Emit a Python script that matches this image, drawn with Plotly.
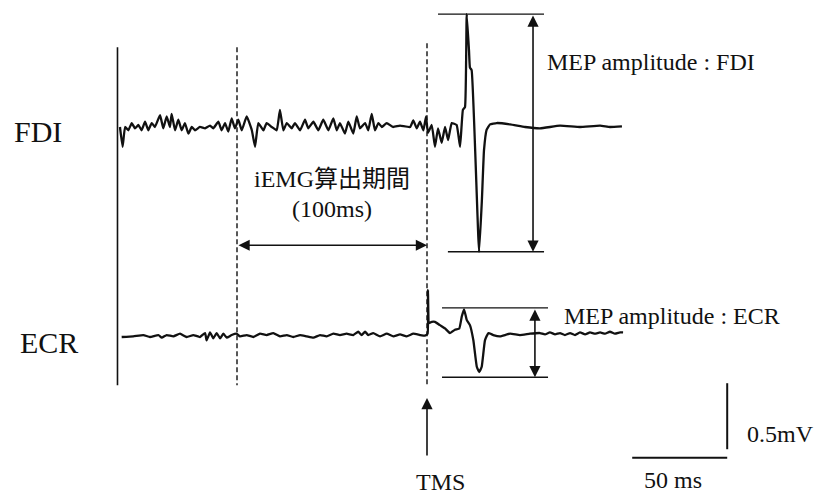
import plotly.graph_objects as go

# ---------------- data (time in ms relative to TMS, amplitude in mV) ----------------
fdi_t = [-161.6, -160.2, -158.9, -157.2, -155.4, -153.7, -151.9, -150.2, -148.4, -146.7,
         -144.9, -143.2, -140.5, -138.8, -137.0, -135.3, -134.4, -132.6, -130.9, -129.1,
         -127.4, -125.6, -123.8, -122.1, -119.5, -116.8, -114.2, -112.5, -109.8, -108.1,
         -106.3, -104.6, -102.8, -101.1, -99.3, -97.5, -94.9, -92.2, -90.5, -88.8,
         -86.1, -84.4, -81.7, -79.1, -77.4, -75.6, -73.8, -71.2, -69.5, -66.8,
         -64.2, -62.5, -59.8, -57.2, -54.6, -51.9, -49.3, -47.5, -45.8, -43.2,
         -41.4, -38.8, -37.0, -35.3, -32.6, -30.9, -29.1, -27.4, -25.6, -23.8,
         -21.2, -17.9, -14.2, -8.9, -7.2, -5.4, -3.7, -1.9, -0.5,
         0.5, 2.5, 4.2, 5.8, 7.7, 9.5, 11.1, 13.0, 15.6, 17.4, 18.9, 20.0, 20.9,
         22.1, 22.6, 23.5, 27.4, 28.9, 30.0, 31.4, 33.2, 36.7, 43.7, 51.6, 59.5,
         70.0, 80.5, 91.1, 96.3, 102.6]
fdi_v = [0.0, -0.15, 0.0, -0.025, 0.03, -0.01, 0.015, -0.025, 0.04, -0.025,
         0.03, 0.0, 0.09, -0.01, 0.08, 0.0, 0.1, -0.025, 0.055, -0.025,
         0.03, -0.05, 0.0, -0.025, 0.0, -0.01, 0.01, -0.01, 0.04, -0.025,
         0.03, -0.035, 0.065, -0.01, 0.055, -0.025, 0.08, -0.025, -0.15, 0.03,
         -0.025, 0.03, 0.0, -0.025, 0.13, -0.025, 0.03, -0.01, 0.03, -0.025,
         0.055, -0.01, 0.04, -0.025, 0.055, -0.025, 0.065, -0.025, 0.03, -0.05,
         0.04, -0.05, 0.08, -0.01, 0.03, -0.025, 0.1, -0.025, 0.03, 0.0,
         0.03, 0.0, 0.01, 0.0, 0.05, -0.01, 0.04, -0.025, 0.08,
         -0.045, 0.015, -0.15, -0.01, -0.12, 0.0, -0.1, 0.03, 0.015, -0.15, 0.13, 0.15, 0.855,
         0.58, 0.45, 0.43, -0.945, -0.55, -0.175, -0.02, 0.02, 0.03, 0.02, 0.0, -0.01,
         0.01, 0.0, 0.01, 0.0, 0.005]

ecr_t = [-160.7, -154.6, -149.3, -145.8, -141.4, -139.6, -137.0, -133.5, -130.0, -126.5,
         -123.0, -119.5, -116.8, -116.0, -114.2, -112.5, -110.7, -108.9, -107.2, -105.4,
         -102.8, -100.2, -98.4, -94.9, -91.4, -87.9, -84.4, -80.9, -77.4, -73.8,
         -70.4, -66.8, -63.3, -59.8, -56.3, -52.8, -49.3, -45.8, -42.3, -38.8,
         -36.2, -34.4, -32.6, -30.9, -28.3, -24.7, -21.2, -17.7, -14.2, -10.7,
         -7.2, -3.7, -1.1,
         0.3, 0.5, 1.1, 2.5, 4.2, 6.8, 9.5, 12.1, 14.7, 17.0, 18.3, 19.5, 20.9,
         22.6, 24.4, 26.2, 27.5, 28.8, 30.5, 32.3, 34.9, 38.4, 43.7, 48.9, 54.2,
         59.5, 62.1, 64.7, 67.4, 70.0, 72.6, 75.3, 77.9, 80.5, 83.2, 85.8, 88.4,
         91.1, 93.7, 96.3, 98.9, 101.6, 103.2]
ecr_v = [-0.015, -0.01, 0.0, -0.015, 0.0, -0.02, 0.0, -0.01, 0.01, -0.015,
         0.0, -0.015, 0.015, -0.04, 0.02, -0.025, 0.015, -0.025, 0.01, -0.02,
         0.0, 0.01, -0.01, 0.0, -0.015, 0.01, 0.0, 0.015, -0.01, 0.0,
         -0.015, 0.0, -0.01, -0.02, 0.0, -0.01, 0.01, 0.0, 0.01, 0.0,
         0.025, 0.0, 0.025, 0.0, 0.015, -0.01, 0.01, -0.01, 0.005, -0.01,
         0.01, 0.0, -0.005,
         0.01, 0.34, 0.09, 0.1, 0.1, 0.075, 0.05, 0.015, 0.04, 0.05, 0.14, 0.195, 0.115,
         0.075, -0.04, -0.24, -0.28, -0.24, -0.04, 0.015, 0.0, -0.01, 0.01, 0.0, 0.01,
         0.015, 0.005, 0.02, 0.005, 0.015, 0.0, 0.015, 0.0, 0.02, 0.005, 0.02, 0.01,
         0.02, 0.01, 0.025, 0.01, 0.02, 0.02]

fdi_mep = [0.855, -0.945]     # MEP peak / trough (mV)
ecr_mep = [0.205, -0.32]
iemg_window = [-100, 0]       # ms
scale_ms = 50
scale_mv = 0.5

# ---------------- layout constants ----------------
FDI_OFF = 1.576               # vertical offset of FDI trace (mV)
X_RANGE = [-224.74, 204.74]
Y_RANGE = [-1.227, 2.538]
W, H = 816, 497
SERIF = "Liberation Serif, Times New Roman, Noto Sans CJK JP, serif"
BLACK = "#111111"

fig = go.Figure()

def seg(xs, ys, width=1.5, dash=None, color=BLACK):
    fig.add_trace(go.Scatter(x=xs, y=ys, mode="lines", hoverinfo="skip", showlegend=False,
                             line=dict(color=color, width=width, dash=dash)))

# traces
fig.add_trace(go.Scatter(x=fdi_t, y=[v + FDI_OFF for v in fdi_v], mode="lines",
                         line=dict(color=BLACK, width=2.3, shape="spline", smoothing=0.35),
                         showlegend=False, hoverinfo="skip"))
fig.add_trace(go.Scatter(x=ecr_t, y=ecr_v, mode="lines",
                         line=dict(color=BLACK, width=2.3, shape="spline", smoothing=0.35),
                         showlegend=False, hoverinfo="skip"))

# vertical reference lines
top_v, bot_v = 2.18, -0.38
seg([-162.9, -162.9], [top_v, bot_v], width=1.6)
seg([iemg_window[0]] * 2, [top_v, bot_v], width=1.4, dash="5px,3px")
seg([iemg_window[1]] * 2, [2.21, bot_v], width=1.4, dash="5px,3px")

# MEP amplitude lines
seg([5.8, 61.6], [fdi_mep[0] + FDI_OFF] * 2, width=1.3)
seg([11.0, 61.6], [fdi_mep[1] + FDI_OFF] * 2, width=1.3)
seg([7.9, 63.7], [ecr_mep[0]] * 2, width=1.3)
seg([7.9, 63.7], [ecr_mep[1]] * 2, width=1.3)

# scale bars
sb_t0, sb_v0 = 108.0, -0.93
seg([sb_t0, sb_t0 + scale_ms], [sb_v0, sb_v0], width=2)
seg([sb_t0 + scale_ms] * 2, [-0.865, -0.865 + scale_mv], width=2)

annos = []
def arrow(x, y, ax, ay, both=False):
    annos.append(dict(x=x, y=y, ax=ax, ay=ay, xref="x", yref="y", axref="x", ayref="y",
                      showarrow=True, arrowhead=2, arrowsize=1.4, arrowwidth=1.6,
                      arrowcolor=BLACK, text="",
                      arrowside="end+start" if both else "end"))

arrow(55.8, fdi_mep[1] + FDI_OFF, 55.8, fdi_mep[0] + FDI_OFF, both=True)
arrow(56.8, ecr_mep[1], 56.8, ecr_mep[0], both=True)
arrow(iemg_window[1], 0.68, iemg_window[0], 0.68, both=True)
arrow(0, -0.477, 0, -0.924)

def text(t, px, py, size=24, xanchor="center"):
    annos.append(dict(text=t, x=px / W, y=1 - py / H, xref="paper", yref="paper",
                      showarrow=False, xanchor=xanchor, yanchor="middle",
                      font=dict(family=SERIF, size=size, color=BLACK)))

text("FDI", 38, 132, size=30)
text("ECR", 49, 342, size=30)
text("iEMG算出期間", 332, 179)
text("(100ms)", 332, 209)
text("MEP amplitude : FDI", 545, 62, xanchor="left")
text("MEP amplitude : ECR", 562, 316, xanchor="left")
text("TMS", 440, 482)
text("50 ms", 673, 480)
text("0.5mV", 745, 434, xanchor="left")

fig.update_layout(
    width=W, height=H, margin=dict(l=0, r=0, t=0, b=0),
    paper_bgcolor="white", plot_bgcolor="white",
    xaxis=dict(range=X_RANGE, visible=False, fixedrange=True),
    yaxis=dict(range=Y_RANGE, visible=False, fixedrange=True),
    annotations=annos, showlegend=False,
)

fig.write_html("out.html", config={"displayModeBar": False},
               post_script="document.body.style.margin='0';document.body.style.overflow='hidden';")
